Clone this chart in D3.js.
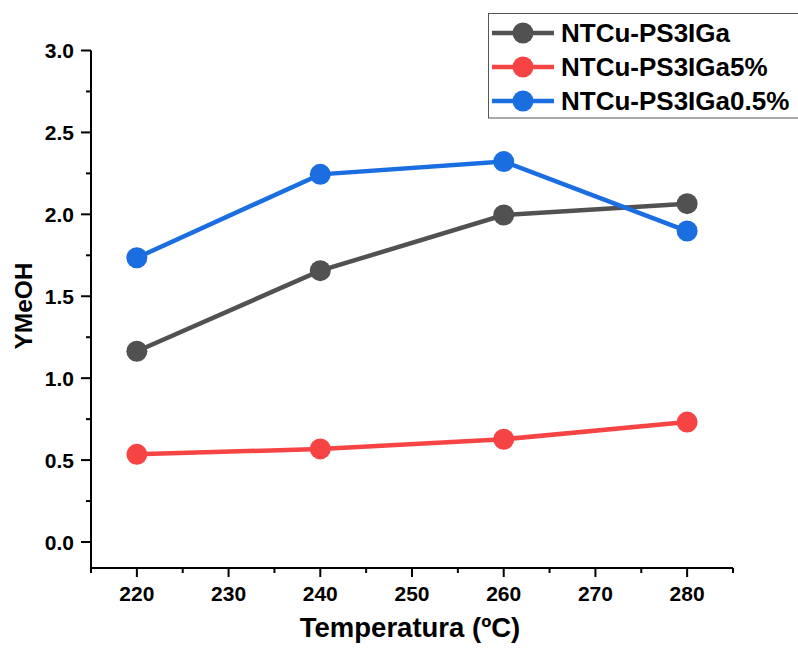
<!DOCTYPE html>
<html><head><meta charset="utf-8">
<script src="https://cdn.jsdelivr.net/npm/d3@7"></script>
<style>body{margin:0;background:#fff}svg{display:block;font-family:"Liberation Sans",Arial,sans-serif}</style>
</head><body>
<script>
const temperatures = [220, 240, 260, 280];
const seriesNames = ["NTCu-PS3IGa", "NTCu-PS3IGa5%", "NTCu-PS3IGa0.5%"];
const seriesColors = ["#515151", "#f64444", "#1a6ee0"];
const valuesBase = [1.164, 1.656, 1.996, 2.065];
const values5 = [0.535, 0.568, 0.627, 0.732];
const values05 = [1.735, 2.244, 2.322, 1.898];
const xTicks = [220, 230, 240, 250, 260, 270, 280];
const yTicks = [0.0, 0.5, 1.0, 1.5, 2.0, 2.5, 3.0];

const W = 798, H = 649;
const svg = d3.select("body").append("svg").attr("width", W).attr("height", H);
const x = d3.scaleLinear().domain([215, 285]).range([91, 733]);
const y = d3.scaleLinear().domain([0, 3]).range([542, 50.5]);

// x axis
const gx = svg.append("g").attr("transform", "translate(0,568)");
gx.append("line").attr("x1", 91).attr("x2", 733).attr("stroke", "#000").attr("stroke-width", 2);
gx.selectAll(".mt").data(d3.range(215, 286, 5)).enter().append("line")
  .attr("x1", d => x(d)).attr("x2", d => x(d)).attr("y1", 0)
  .attr("y2", d => xTicks.includes(d) ? 9 : 5).attr("stroke", "#000").attr("stroke-width", 2);
gx.selectAll(".tl").data(xTicks).enter().append("text")
  .attr("x", d => x(d)).attr("y", 33).attr("text-anchor", "middle").attr("fill", "#000")
  .attr("font-size", 21).attr("font-weight", "bold").text(d => d);

// y axis
const gy = svg.append("g").attr("transform", "translate(91,0)");
gy.append("line").attr("y1", 568).attr("y2", y(3)).attr("stroke", "#000").attr("stroke-width", 2);
gy.selectAll(".mt").data(d3.range(0, 3.01, 0.25)).enter().append("line")
  .attr("y1", d => y(d)).attr("y2", d => y(d)).attr("x1", 0)
  .attr("x2", (d, i) => i % 2 === 0 ? -10 : -5).attr("stroke", "#000").attr("stroke-width", 2);
gy.selectAll(".tl").data(yTicks).enter().append("text")
  .attr("x", -17).attr("y", d => y(d) + 7.5).attr("text-anchor", "end").attr("fill", "#000")
  .attr("font-size", 21).attr("font-weight", "bold").text(d => d.toFixed(1));

svg.append("text").attr("x", 410).attr("y", 637).attr("text-anchor", "middle")
  .attr("font-size", 27.5).attr("font-weight", "bold").text("Temperatura (ºC)");
svg.append("text").attr("transform", "translate(32,306) rotate(-90)").attr("text-anchor", "middle")
  .attr("font-size", 24.5).attr("font-weight", "bold").text("YMeOH");

// series
const allValues = [valuesBase, values5, values05];
const line = d3.line().x((d, i) => x(temperatures[i])).y(d => y(d));
allValues.forEach((vals, s) => {
  const g = svg.append("g");
  g.append("path").datum(vals).attr("d", line).attr("fill", "none")
    .attr("stroke", seriesColors[s]).attr("stroke-width", 4.5);
  g.selectAll("circle").data(vals).enter().append("circle")
    .attr("cx", (d, i) => x(temperatures[i])).attr("cy", d => y(d)).attr("r", 10.5)
    .attr("fill", seriesColors[s]);
});

// legend
const lg = svg.append("g");
lg.append("rect").attr("x", 488.5).attr("y", 13.5).attr("width", 316).attr("height", 104.5)
  .attr("fill", "#fff").attr("stroke", "#555").attr("stroke-width", 1);
seriesNames.forEach((n, i) => {
  const cy = 33 + i * 34;
  lg.append("line").attr("x1", 492).attr("x2", 554).attr("y1", cy).attr("y2", cy)
    .attr("stroke", seriesColors[i]).attr("stroke-width", 4.5);
  lg.append("circle").attr("cx", 523).attr("cy", cy).attr("r", 10.5).attr("fill", seriesColors[i]);
  lg.append("text").attr("x", 561).attr("y", cy + 8.5).attr("font-size", 26)
    .attr("font-weight", "bold").text(n);
});
</script>
</body></html>
